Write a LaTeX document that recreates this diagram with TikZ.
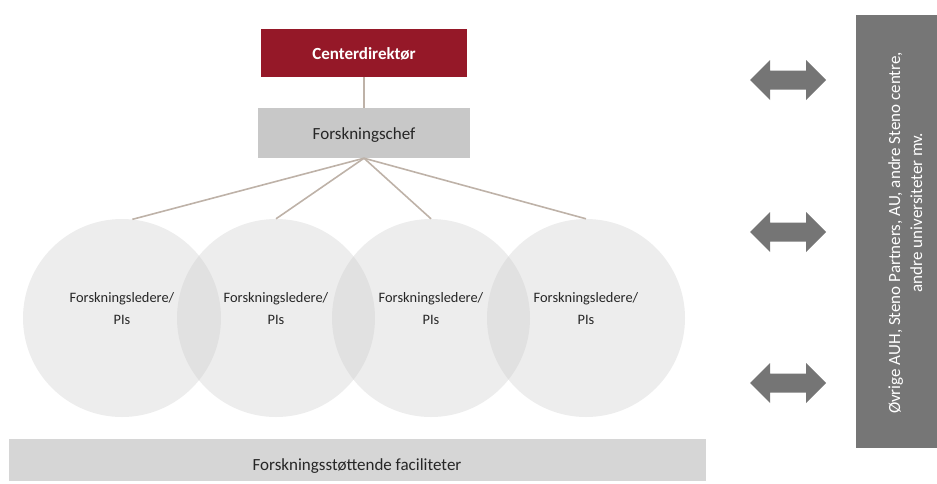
\documentclass[tikz,border=0pt]{standalone}
\usepackage{fontspec}
\usetikzlibrary{calc}
\setmainfont{Carlito}
\definecolor{dirred}{RGB}{149,24,40}
\definecolor{chefgray}{RGB}{200,200,200}
\definecolor{circgray}{RGB}{200,200,200}
\definecolor{barcol}{RGB}{214,214,214}
\definecolor{linkcol}{RGB}{190,178,168}
\definecolor{arrowcol}{RGB}{117,117,117}
\definecolor{sidecol}{RGB}{118,118,118}
\definecolor{txt}{RGB}{38,38,38}
\tikzset{
  box/.style={rectangle, inner sep=0pt, anchor=center},
  lbl/.style={inner sep=0pt, anchor=base, text=txt, font=\fontsize{17}{20}\selectfont},
  pi/.style={circle, inner sep=0pt, minimum size=198pt, fill=circgray, fill opacity=0.33},
  pilbl/.style={inner sep=0pt, anchor=base, text=txt, font=\fontsize{14.4}{17}\selectfont},
  sidelbl/.style={inner sep=0pt, anchor=base, rotate=90, text=white, font=\fontsize{17}{20}\selectfont},
  link/.style={draw=linkcol, line width=1.6pt},
  dblarrow/.style={fill=arrowcol}
}
\begin{document}
\begin{tikzpicture}[x=1pt, y=-1pt]
  \useasboundingbox (0,0) rectangle (937,483);

  % management boxes
  \node[box, fill=dirred, minimum width=206pt, minimum height=48pt] (dir) at (364,53) {};
  \node[lbl, text=white, font=\fontsize{17}{20}\selectfont\bfseries] (dirtxt) at (364,59) {Centerdirektør};
  \node[box, fill=chefgray, minimum width=212pt, minimum height=50pt] (chef) at (364,133) {};
  \node[lbl] (cheftxt) at (364,139.3) {Forskningschef};

  % research leader circles
  \foreach \i/\cx in {1/122, 2/276, 3/431, 4/586} {
    \node[pi] (c\i) at (\cx,318) {};
    \node[pilbl] (c\i top) at (\cx,302.7) {Forskningsledere/};
    \node[pilbl] (c\i bot) at (\cx,324) {PIs};
  }

  % connectors
  \draw[link] (dir.south) -- (chef.north);
  \draw[link] (chef.south) -- (c1.84);
  \draw[link] (chef.south) -- (c2.north);
  \draw[link] (chef.south) -- (c3.north);
  \draw[link] (chef.south) -- (c4.north);

  % support facilities
  \node[box, fill=barcol, minimum width=697pt, minimum height=42pt] (fac) at (357.5,460) {};
  \node[lbl] (factxt) at (357,470.5) {Forskningsstøttende faciliteter};

  % external partners
  \node[box, fill=sidecol, minimum width=81pt, minimum height=433pt] (ext) at (896.5,231.5) {};
  \node[sidelbl] (extone) at (900,233) {Øvrige AUH, Steno Partners, AU, andre Steno centre,};
  \node[sidelbl] (exttwo) at (922,212.5) {andre universiteter mv.};

  % two-way arrows
  \foreach \n/\yy in {a1/80, a2/232, a3/383} {
    \coordinate (\n) at (788,\yy);
    \fill[dblarrow] ($(\n)+(-38,0)$) -- ++(20,-20) -- ++(0,10.5) -- ++(36,0) -- ++(0,-10.5)
      -- ++(20,20) -- ++(-20,20) -- ++(0,-10.5) -- ++(-36,0) -- ++(0,10.5) -- cycle;
  }
\end{tikzpicture}
\end{document}
